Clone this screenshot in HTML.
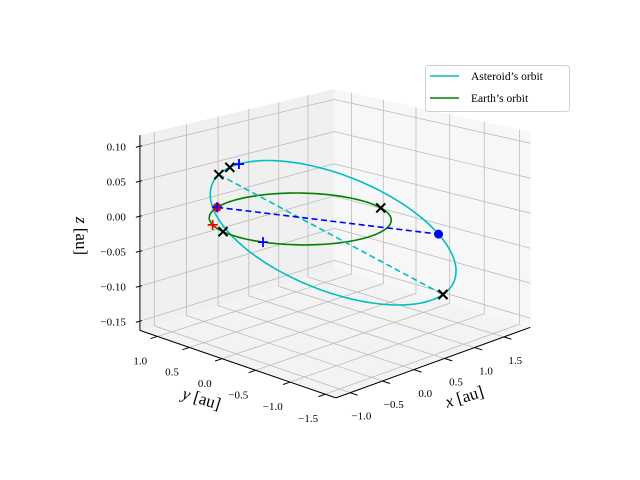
<!DOCTYPE html>
<html><head><meta charset="utf-8">
<style>
html,body{margin:0;padding:0;background:#fff;}
svg{display:block;}
text{font-family:"Liberation Serif","DejaVu Serif",serif;}
</style></head>
<body>
<svg id="chart" width="640" height="480" viewBox="0 0 640 480" xmlns="http://www.w3.org/2000/svg">
  <g id="panes"></g>
  <g id="grid"></g>
  <g id="axes"></g>
  <g id="series"></g>
  <text x="466" y="402" font-size="17" text-anchor="middle" transform="rotate(-17 466 402)"><tspan font-style="italic">x</tspan> [au]</text>
  <text x="200" y="404" font-size="17" text-anchor="middle" transform="rotate(17 200 404)"><tspan font-style="italic">y</tspan> [au]</text>
  <text x="76" y="236" font-size="17" text-anchor="middle" transform="rotate(90 76 236)"><tspan font-style="italic">z</tspan> [au]</text>
  <g>
    <rect x="425.5" y="65.5" width="144" height="46" rx="3" fill="#fff" fill-opacity="0.85" stroke="#d0d0d0"/>
    <line x1="430" y1="76" x2="459" y2="76" stroke="#00bfbf" stroke-width="1.6"/>
    <text x="441" y="80" font-size="11.5" dx="30">Asteroid’s orbit</text>
    <line x1="430" y1="98" x2="459" y2="98" stroke="#008000" stroke-width="1.6"/>
    <text x="441" y="102" font-size="11.5" dx="30">Earth’s orbit</text>
  </g>
</svg>
<script>
// axis limits and ticks
const xLimits = [-1.22, 1.96];
const yLimits = [-1.65, 1.28];
const zLimits = [-0.163, 0.116];
const xTicks = [-1.0, -0.5, 0.0, 0.5, 1.0, 1.5];
const yTicks = [-1.5, -1.0, -0.5, 0.0, 0.5, 1.0];
const zTicks = [-0.15, -0.10, -0.05, 0.00, 0.05, 0.10];
const xTickLabels = ["\u22121.0", "\u22120.5", "0.0", "0.5", "1.0", "1.5"];
const yTickLabels = ["\u22121.5", "\u22121.0", "\u22120.5", "0.0", "0.5", "1.0"];
const zTickLabels = ["\u22120.15", "\u22120.10", "\u22120.05", "0.00", "0.05", "0.10"];
// asteroid orbit elements
const asteroidSemiMajor = [1.333];
const asteroidEccentricity = [0.289];
const asteroidPeriDir = [-0.896, 0.437, 0.076];
const asteroidMinorDir = [0.372, 0.928, -0.080];
// earth orbit
const earthRadius = [1.0];
// markers (asteroid by eccentric anomaly deg, earth by angle deg)
const asteroidBlackX = [0, -11, 180];
const asteroidRedX = [180];
const asteroidBluePlus = [-18];
const asteroidBlueDot = [-122.9];
const earthRedDot = [111];
const earthBluePlus = [111, 200];
const earthRedPlus = [151];
const earthBlackX = [167, -21];
const apsidesLine = [0, 180];
const earthAsteroidLine = [111, -122.9];

const NS = "http://www.w3.org/2000/svg";
function mk(tag, attrs, parent) {
  const el = document.createElementNS(NS, tag);
  for (const k in attrs) el.setAttribute(k, attrs[k]);
  parent.appendChild(el);
  return el;
}
function proj(x, y, z) {
  const ax = 300 + 62 * x - 66 * y;
  const ay = 218 - 18 * x - 18.5 * y - 700 * z;
  const dep = (x - 0.37) / 3.18 + (y + 0.185) / 2.93;
  const s = 1 - 0.08 * dep;
  return [300 + (ax - 300) * s, 218 + (ay - 218) * s];
}
function pts(arr) { return arr.map(p => p[0].toFixed(1) + "," + p[1].toFixed(1)).join(" "); }
function asteroidPos(Edeg) {
  const E = Edeg * Math.PI / 180, a = asteroidSemiMajor[0], e = asteroidEccentricity[0];
  const b = a * Math.sqrt(1 - e * e);
  const c = a * (Math.cos(E) - e), s = b * Math.sin(E);
  return [0, 1, 2].map(i => c * asteroidPeriDir[i] + s * asteroidMinorDir[i]);
}
function earthPos(tdeg) {
  const t = tdeg * Math.PI / 180, r = earthRadius[0];
  return [r * Math.cos(t), r * Math.sin(t), 0];
}
const P = v => proj(v[0], v[1], v[2]);

const panes = document.getElementById("panes");
const grid = document.getElementById("grid");
const axes = document.getElementById("axes");
const series = document.getElementById("series");
const [X0, X1] = xLimits, [Y0, Y1] = yLimits, [Z0, Z1] = zLimits;

// panes
let el;
el = mk("polygon", {points: pts([proj(X0,Y1,Z0), proj(X1,Y1,Z0), proj(X1,Y1,Z1), proj(X0,Y1,Z1)]), fill: "#f0f0f0"}, panes);


el = mk("polygon", {points: pts([proj(X1,Y0,Z0), proj(X1,Y1,Z0), proj(X1,Y1,Z1), proj(X1,Y0,Z1)]), fill: "#f7f7f7"}, panes);


el = mk("polygon", {points: pts([proj(X0,Y0,Z0), proj(X1,Y0,Z0), proj(X1,Y1,Z0), proj(X0,Y1,Z0)]), fill: "#f3f3f3"}, panes);



const gs = {stroke: "#bcbcbc", "stroke-width": "0.8", fill: "none"};
xTicks.forEach(t => {
  el = mk("polyline", Object.assign({points: pts([proj(t,Y0,Z0), proj(t,Y1,Z0), proj(t,Y1,Z1)])}, gs), grid);
  
  
});
yTicks.forEach(t => {
  el = mk("polyline", Object.assign({points: pts([proj(X0,t,Z0), proj(X1,t,Z0), proj(X1,t,Z1)])}, gs), grid);
  
  
});
zTicks.forEach(t => {
  el = mk("polyline", Object.assign({points: pts([proj(X0,Y1,t), proj(X1,Y1,t), proj(X1,Y0,t)])}, gs), grid);
  
  
});

// axis lines
const as = {stroke: "#000", "stroke-width": "1", fill: "none"};
el = mk("polyline", Object.assign({points: pts([proj(X0,Y0,Z0), proj(X1,Y0,Z0)])}, as), axes);


el = mk("polyline", Object.assign({points: pts([proj(X0,Y0,Z0), proj(X0,Y1,Z0)])}, as), axes);


el = mk("polyline", Object.assign({points: pts([proj(X0,Y1,Z0), proj(X0,Y1,Z1)])}, as), axes);



xTicks.forEach((t, i) => {
  const a = proj(t, Y0, Z0), b = proj(t, Y0 - 0.1, Z0);
  el = mk("line", {x1: a[0], y1: a[1], x2: b[0], y2: b[1], stroke: "#000", "stroke-width": "1"}, axes);
  
  
  el = mk("text", {x: a[0] + 11, y: a[1] + 27, "font-size": "11", "text-anchor": "middle"}, axes);
  el.textContent = xTickLabels[i];
  
  
});
yTicks.forEach((t, i) => {
  const a = proj(X0, t, Z0), b = proj(X0 - 0.1, t, Z0);
  el = mk("line", {x1: a[0], y1: a[1], x2: b[0], y2: b[1], stroke: "#000", "stroke-width": "1"}, axes);
  
  
  el = mk("text", {x: a[0] - 17, y: a[1] + 28, "font-size": "11", "text-anchor": "middle"}, axes);
  el.textContent = yTickLabels[i];
  
  
});
zTicks.forEach((t, i) => {
  const a = proj(X0, Y1, t);
  el = mk("line", {x1: a[0] - 4, y1: a[1] + 1, x2: a[0] + 2, y2: a[1] - 0.5, stroke: "#000", "stroke-width": "1"}, axes);
  
  
  el = mk("text", {x: a[0] - 14, y: a[1] + 4, "font-size": "11", "text-anchor": "end"}, axes);
  el.textContent = zTickLabels[i];
  
  
});

// orbits
const astPts = [], earthPts = [];
for (let k = 0; k <= 360; k += 2) { astPts.push(P(asteroidPos(k))); earthPts.push(P(earthPos(k))); }
el = mk("polyline", {points: pts(astPts), stroke: "#00bfbf", "stroke-width": "1.6", fill: "none"}, series);


el = mk("polyline", {points: pts(earthPts), stroke: "#008000", "stroke-width": "1.6", fill: "none"}, series);



// dashed lines
const ap1 = P(asteroidPos(apsidesLine[0])), ap2 = P(asteroidPos(apsidesLine[1]));
el = mk("line", {x1: ap1[0], y1: ap1[1], x2: ap2[0], y2: ap2[1], stroke: "#00bfbf", "stroke-width": "1.6", "stroke-dasharray": "6,3.5"}, series);


const el1 = P(earthPos(earthAsteroidLine[0])), el2 = P(asteroidPos(earthAsteroidLine[1]));
el = mk("line", {x1: el1[0], y1: el1[1], x2: el2[0], y2: el2[1], stroke: "#0000ff", "stroke-width": "1.6", "stroke-dasharray": "6,3.5"}, series);



// markers
function xMark(p, color, name) {
  const d = 4.5;
  el = mk("path", {d: `M${p[0]-d},${p[1]-d}L${p[0]+d},${p[1]+d}M${p[0]-d},${p[1]+d}L${p[0]+d},${p[1]-d}`, stroke: color, "stroke-width": "2", fill: "none"}, series);
  
  
}
function plusMark(p, color, name) {
  const d = 5;
  el = mk("path", {d: `M${p[0]-d},${p[1]}L${p[0]+d},${p[1]}M${p[0]},${p[1]-d}L${p[0]},${p[1]+d}`, stroke: color, "stroke-width": "1.8", fill: "none"}, series);
  
  
}
function dotMark(p, color, name) {
  el = mk("circle", {cx: p[0], cy: p[1], r: 4.5, fill: color}, series);
  
  
}
earthRedDot.forEach(t => dotMark(P(earthPos(t)), "#ff0000", "earth-red-dot"));
earthRedPlus.forEach(t => plusMark(P(earthPos(t)), "#ff0000", "earth-red-plus"));
asteroidRedX.forEach(E => xMark(P(asteroidPos(E)), "#ff0000", "asteroid-red-x"));
asteroidBlackX.forEach(E => xMark(P(asteroidPos(E)), "#000000", "asteroid-black-x"));
earthBlackX.forEach(t => xMark(P(earthPos(t)), "#000000", "earth-black-x"));
asteroidBlueDot.forEach(E => dotMark(P(asteroidPos(E)), "#0000ff", "asteroid-blue-dot"));
asteroidBluePlus.forEach(E => plusMark(P(asteroidPos(E)), "#0000ff", "asteroid-blue-plus"));
earthBluePlus.forEach(t => plusMark(P(earthPos(t)), "#0000ff", "earth-blue-plus"));
</script>
</body></html>
